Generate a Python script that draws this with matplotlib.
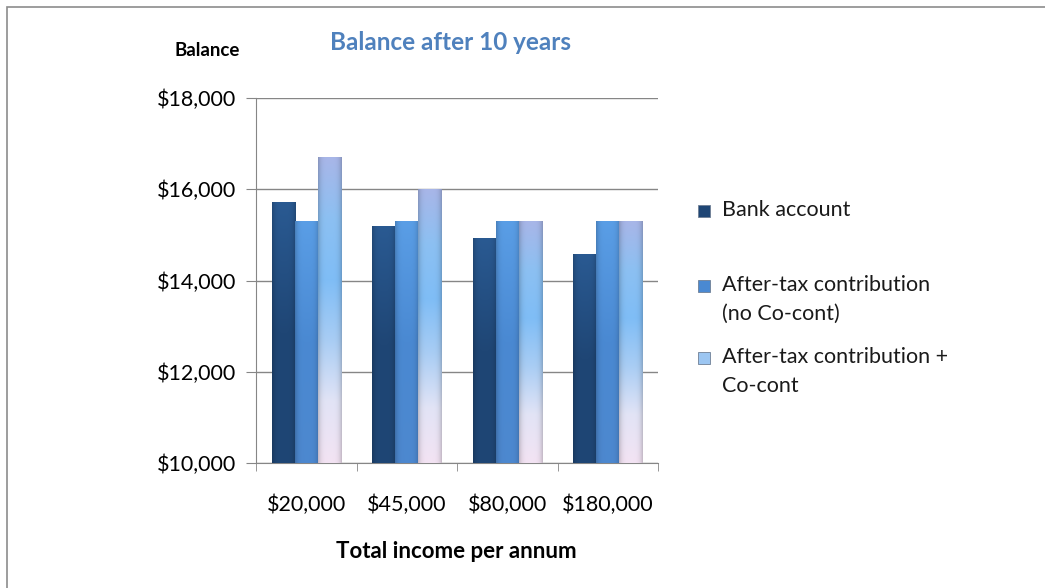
import numpy as np
import matplotlib
matplotlib.use("Agg")
import matplotlib.pyplot as plt
from matplotlib.colors import LinearSegmentedColormap
from matplotlib.patches import Rectangle
from matplotlib.ticker import FuncFormatter

plt.rcParams['font.family'] = ['Lato', 'DejaVu Sans']

incomes = ["$20,000", "$45,000", "$80,000", "$180,000"]
bank = [15710, 15185, 14930, 14580]
no_cocont = [15290, 15290, 15290, 15290]
with_cocont = [16690, 16000, 15290, 15290]
series_names = ["Bank account", "After-tax contribution\n(no Co-cont)",
                "After-tax contribution +\nCo-cont"]

W, H = 1045, 588
fig = plt.figure(figsize=(W / 100, H / 100), dpi=100)
ax = fig.add_axes([256 / W, 1 - 463 / H, (658 - 256) / W, (463 - 98) / H])

# outer chart border (only top/left visible in the reference)
fig.patches.append(Rectangle((7 / W, -0.1), 1.2, 1 - 7 / H + 0.1,
                             transform=fig.transFigure, fill=False,
                             edgecolor="#8c8c8c", linewidth=1.2))

x = np.arange(len(incomes))
w = 0.23
ymin = 10000

# vertical gradients for each series (top -> bottom)
cmaps = [
    LinearSegmentedColormap.from_list("bank", ["#2a5a92", "#1f4675", "#1f4675"]),
    LinearSegmentedColormap.from_list("noco", ["#5a9ee6", "#4a89d2", "#4d88cf"]),
    LinearSegmentedColormap.from_list("co", ["#a8b6e8", "#8cc0f2", "#7fbdf6",
                                             "#a9cdf4", "#e2e4f6", "#f3e3f3"]),
]
face = ["#1f4675", "#4a89d2", "#9cc6f2"]


def shaded(cmap):
    grad = np.linspace(0, 1, 256).reshape(-1, 1)
    side = 1 - 0.18 * (np.abs(np.linspace(-1, 1, 32)) ** 4)
    return cmap(grad)[:, :, :3] * side[None, :, None]


for i, vals in enumerate([bank, no_cocont, with_cocont]):
    pos = x + (i - 1) * w
    bars = ax.bar(pos, vals, w, bottom=0, color=face[i],
                  edgecolor="#6f7f95", linewidth=0.6, zorder=3)
    for b, v in zip(bars, vals):
        x0 = b.get_x()
        ax.imshow(shaded(cmaps[i]), extent=[x0, x0 + w, ymin, v], aspect="auto",
                  origin="upper", zorder=4, clip_path=b, clip_on=True,
                  interpolation="bilinear")

ax.set_xlim(-0.5, len(incomes) - 0.5)
ax.set_ylim(10000, 18000)
ax.set_yticks(np.arange(10000, 18001, 2000))
ax.yaxis.set_major_formatter(FuncFormatter(lambda v, p: f"${v:,.0f}"))
ax.set_xticks(x)
ax.set_xticklabels(incomes)
ax.set_xticks(np.arange(-0.5, len(incomes)), minor=True)
ax.tick_params(axis="x", which="major", length=0, pad=23, labelsize=15.5)
ax.tick_params(axis="x", which="minor", length=6, color="#868686")
ax.tick_params(axis="y", length=7, color="#868686", labelsize=15.5, pad=7)
ax.grid(axis="y", color="#868686", linewidth=1.0, zorder=0)
ax.set_axisbelow(True)
for s in ["top", "right"]:
    ax.spines[s].set_visible(False)
for s in ["left", "bottom"]:
    ax.spines[s].set_color("#868686")

fig.text(451 / W, 1 - 43 / H, "Balance after 10 years", color="#4f81bd",
         fontsize=17.5, fontweight="bold", ha="center", va="center")
fig.text(240 / W, 1 - 50 / H, "Balance", fontsize=13.5, fontweight="bold",
         ha="right", va="center")
fig.text(456 / W, 1 - 551 / H, "Total income per annum", fontsize=16,
         fontweight="bold", ha="center", va="center")

# legend drawn by hand to keep Excel's uneven entry spacing
leg_y = [211, 286, 358]
for i, name in enumerate(series_names):
    yc = 1 - leg_y[i] / H
    fig.patches.append(Rectangle((698 / W, yc - 6 / H), 12 / W, 12 / H,
                                 transform=fig.transFigure, facecolor=face[i],
                                 edgecolor="#6f7f95", linewidth=0.6))
    fig.text(722 / W, yc + 11 / H, name, fontsize=15.5, ha="left", va="top",
             linespacing=1.55, color="#1a1a1a")

fig.savefig("out.png", dpi=100)
